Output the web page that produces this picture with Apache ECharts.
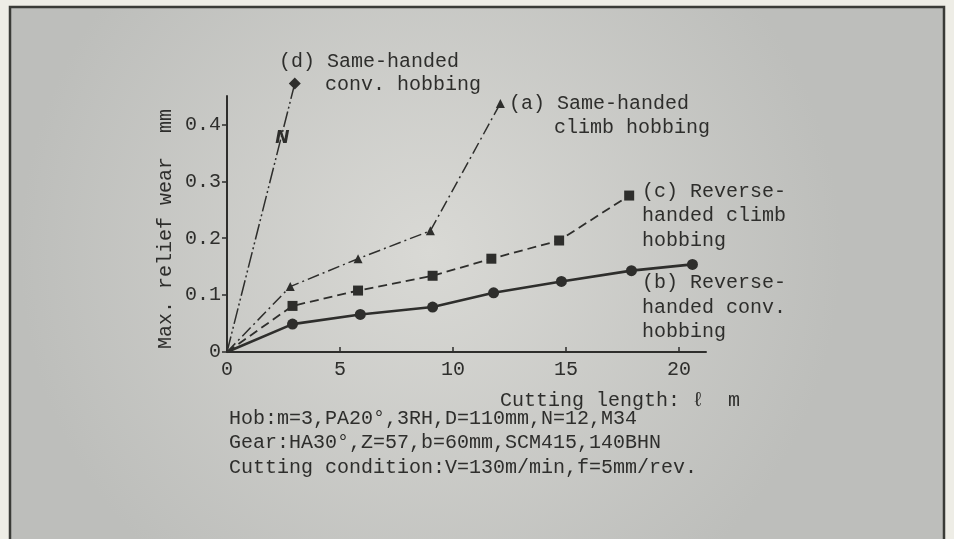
<!DOCTYPE html>
<html>
<head>
<meta charset="utf-8">
<script src="https://cdn.jsdelivr.net/npm/echarts@6/dist/echarts.min.js"></script>
<style>
  html, body { margin: 0; padding: 0; background: #eeede6; }
  .main { width: 954px; height: 539px; }
</style>
</head>
<body>
<div class="main"></div>
<script>
// (a) same-handed climb hobbing
var lengthA = [0, 2.8, 5.8, 9.0, 12.1];
var wearA = [0, 0.115, 0.164, 0.213, 0.437];
// (b) reverse-handed conv. hobbing
var lengthB = [0, 2.9, 5.9, 9.1, 11.8, 14.8, 17.9, 20.6];
var wearB = [0, 0.049, 0.066, 0.079, 0.104, 0.124, 0.143, 0.154];
// (c) reverse-handed climb hobbing
var lengthC = [0, 2.9, 5.8, 9.1, 11.7, 14.7, 17.8];
var wearC = [0, 0.081, 0.108, 0.134, 0.164, 0.196, 0.275];
// (d) same-handed conv. hobbing
var lengthD = [0, 3.0];
var wearD = [0, 0.472];

var xTicks = [0, 5, 10, 15, 20];
var yTicks = [0, 0.1, 0.2, 0.3, 0.4];

var notes = [
    'Hob:m=3,PA20°,3RH,D=110mm,N=12,M34',
    'Gear:HA30°,Z=57,b=60mm,SCM415,140BHN',
    'Cutting condition:V=130m/min,f=5mm/rev.'
];

var FONT = '"Liberation Mono", "DejaVu Sans Mono", monospace';
var INK = '#2e2e2c';

function pairs(xs, ys) {
    return xs.map(function(x, i) {
        // origin point has no marker
        return i === 0 ? { value: [x, ys[i]], symbol: 'none' } : [x, ys[i]];
    });
}

function label(x, y, text) {
    return {
        type: 'text', x: x, y: y, z: 10,
        style: { text: text, font: '20px ' + FONT, fill: INK, verticalAlign: 'middle' }
    };
}

var myChart = echarts.init(document.querySelector('.main'));

var option = {
    backgroundColor: '#eeede6',
    animation: false,
    grid: { left: 227, right: 248, top: 96, bottom: 187 },
    xAxis: {
        type: 'value', min: 0, max: 21.2, interval: 5,
        axisLine: { lineStyle: { color: INK, width: 2 } },
        axisTick: { inside: true, length: 5, lineStyle: { color: INK, width: 1.5 } },
        axisLabel: {
            color: INK, fontFamily: FONT, fontSize: 20, margin: 8, showMaxLabel: false,
            formatter: function(v) { return xTicks.indexOf(v) >= 0 ? String(v) : ''; }
        },
        splitLine: { show: false }
    },
    yAxis: {
        type: 'value', min: 0, max: 0.45, interval: 0.1,
        axisLine: { show: true, lineStyle: { color: INK, width: 2 } },
        axisTick: { show: true, length: 5, lineStyle: { color: INK, width: 1.5 } },
        axisLabel: {
            color: INK, fontFamily: FONT, fontSize: 20, margin: 6, showMaxLabel: false,
            formatter: function(v) {
                var r = Math.round(v * 10) / 10;
                return yTicks.indexOf(r) >= 0 && Math.abs(v - r) < 1e-6 ? String(r) : '';
            }
        },
        splitLine: { show: false }
    },
    series: [{
        name: '(d)', type: 'line', clip: false,
        data: pairs(lengthD, wearD),
        symbol: 'diamond', symbolSize: 12,
        itemStyle: { color: INK },
        lineStyle: { color: INK, width: 1.5, type: [16, 3, 2, 3, 2, 3] },
        markPoint: {
            symbol: 'circle', symbolSize: 0,
            label: {
                show: true, formatter: 'N', color: INK,
                fontFamily: 'DejaVu Sans', fontStyle: 'italic', fontWeight: 'bold', fontSize: 17
            },
            data: [{ coord: [2.45, 0.376] }]
        }
    }, {
        name: '(a)', type: 'line', clip: false,
        data: pairs(lengthA, wearA),
        symbol: 'triangle', symbolSize: 9,
        itemStyle: { color: INK },
        lineStyle: { color: INK, width: 1.5, type: [12, 4, 2, 4] }
    }, {
        name: '(c)', type: 'line',
        data: pairs(lengthC, wearC),
        symbol: 'rect', symbolSize: 10,
        itemStyle: { color: INK },
        lineStyle: { color: INK, width: 1.8, type: [9, 5] }
    }, {
        name: '(b)', type: 'line',
        data: pairs(lengthB, wearB),
        symbol: 'circle', symbolSize: 11,
        itemStyle: { color: INK },
        lineStyle: { color: INK, width: 2.6 }
    }],
    graphic: [{
        type: 'rect', z: -10, silent: true,
        shape: { x: 10, y: 7, width: 934, height: 545 },
        style: {
            stroke: '#3a3b37', lineWidth: 2.5,
            fill: {
                type: 'radial', x: 0.45, y: 0.45, r: 0.75,
                colorStops: [{ offset: 0, color: '#d9d9d5' }, { offset: 1, color: '#bdbebb' }]
            }
        }
    }, {
        type: 'text', x: 166, y: 229, rotation: Math.PI / 2, z: 10,
        style: {
            text: 'Max. relief wear  mm', font: '20px ' + FONT, fill: INK,
            align: 'center', verticalAlign: 'middle'
        }
    },
        label(279, 62, '(d) Same-handed'),
        label(325, 85, 'conv. hobbing'),
        label(509, 104, '(a) Same-handed'),
        label(554, 128, 'climb hobbing'),
        label(642, 192, '(c) Reverse-'),
        label(642, 216, 'handed climb'),
        label(642, 241, 'hobbing'),
        label(642, 283, '(b) Reverse-'),
        label(642, 308, 'handed conv.'),
        label(642, 332, 'hobbing'),
        label(500, 401, 'Cutting length: ℓ  m'),
        {
            type: 'text', x: 229, y: 443, z: 10,
            style: {
                text: notes.join('\n'), font: '20px ' + FONT, fill: INK,
                verticalAlign: 'middle', lineHeight: 24.5
            }
        }
    ]
};

myChart.setOption(option);
</script>
</body>
</html>
